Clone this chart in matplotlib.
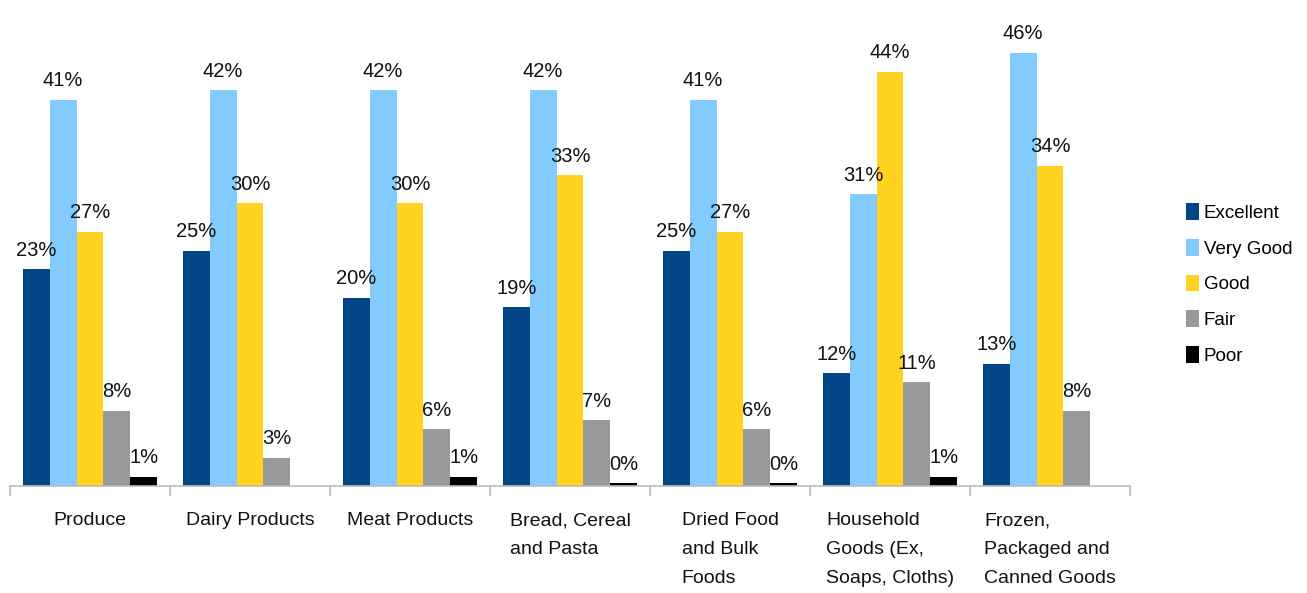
import numpy as np
import matplotlib
matplotlib.use("Agg")
import matplotlib.pyplot as plt

categories = [
    "Produce",
    "Dairy Products",
    "Meat Products",
    "Bread, Cereal\nand Pasta",
    "Dried Food\nand Bulk\nFoods",
    "Household\nGoods (Ex,\nSoaps, Cloths)",
    "Frozen,\nPackaged and\nCanned Goods",
]
ratings = ["Excellent", "Very Good", "Good", "Fair", "Poor"]
excellent = [23, 25, 20, 19, 25, 12, 13]
very_good = [41, 42, 42, 42, 41, 31, 46]
good = [27, 30, 30, 33, 27, 44, 34]
fair = [8, 3, 6, 7, 6, 11, 8]
poor = [1, None, 1, 0.3, 0.3, 1, None]

colors = ["#004586", "#83CAFF", "#FFD320", "#999999", "#000000"]

plt.rcParams["font.family"] = ["Liberation Sans Narrow", "Liberation Sans", "DejaVu Sans"]


def main():
    fig = plt.figure(figsize=(13.07, 5.93), dpi=100)
    ax = fig.add_axes([10 / 1307, 107 / 593, 1120 / 1307, 486 / 593])

    series = [excellent, very_good, good, fair, poor]
    x = np.arange(len(categories))
    width = 0.168
    offsets = (np.arange(len(series)) - 2) * width

    for vals, off, color, name in zip(series, offsets, colors, ratings):
        for i, v in enumerate(vals):
            if v is None:
                continue
            ax.bar(x[i] + off, v, width, color=color, linewidth=0)
            ax.text(x[i] + off, v + 1.0, f"{v:.0f}%", ha="center", va="bottom",
                    fontsize=14.5, color="#111111")
        # legend proxy
        ax.bar(0, 0, 0, color=color, label=name)

    ax.set_xlim(-0.5, len(categories) - 0.5)
    ax.set_ylim(0, 51.6)

    for side in ["top", "right", "left"]:
        ax.spines[side].set_visible(False)
    ax.spines["bottom"].set_color("#bbbbbb")
    ax.spines["bottom"].set_linewidth(1.2)
    ax.set_yticks([])

    # category boundary ticks
    ax.set_xticks(np.arange(len(categories) + 1) - 0.5, minor=False)
    ax.set_xticklabels([])
    ax.tick_params(axis="x", length=7, color="#bbbbbb", width=1.2)
    for i, cat in enumerate(categories):
        ax.text(x[i], -2.8, cat, ha="center", va="top", multialignment="left",
                fontsize=14, color="#111111", linespacing=1.9)

    fig.legend(loc="center left", bbox_to_anchor=(1186 / 1307, 1 - 284 / 593),
               frameon=False, fontsize=13.5, handlelength=0.7, handleheight=1.0,
               handletextpad=0.25, labelspacing=0.9, borderaxespad=0, borderpad=0)

    fig.savefig("out.png", dpi=100)
    plt.close(fig)


if __name__ == "__main__":
    main()
